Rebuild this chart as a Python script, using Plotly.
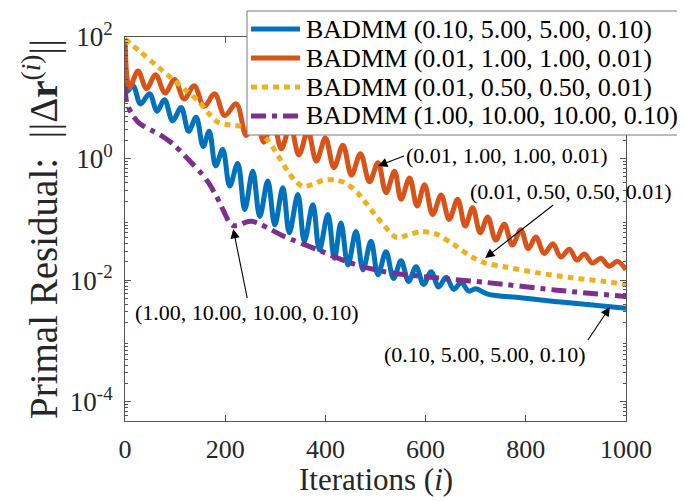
import plotly.graph_objects as go

# ---------------- data ----------------
series_names = [
    "BADMM (0.10, 5.00, 5.00, 0.10)",
    "BADMM (0.01, 1.00, 1.00, 0.01)",
    "BADMM (0.01, 0.50, 0.50, 0.01)",
    "BADMM (1.00, 10.00, 10.00, 0.10)",
]

blue_iter = [0, 3, 16, 31, 49, 64, 79, 95, 112, 127, 142, 156, 168, 181, 195, 209, 225, 239,
             255, 269, 285, 299, 315, 328, 345, 358, 375, 388, 405, 418, 431, 445, 461, 475,
             491, 505, 521, 536, 551, 566, 581, 596, 611, 626, 641, 656, 671, 686, 700, 724,
             790, 857, 923, 1000]
blue_val = [60.0, 12.6, 15.8, 7.94, 11.7, 6.03, 9.33, 4.17, 6.92, 2.82, 4.79, 1.58, 2.82, 0.759,
            1.41, 0.355, 0.832, 0.145, 0.617, 0.112, 0.427, 0.0813, 0.331, 0.0603, 0.257, 0.0437,
            0.174, 0.0316, 0.120, 0.0229, 0.0871, 0.0178, 0.0631, 0.0148, 0.0437, 0.0123, 0.0295,
            0.0107, 0.0209, 0.00955, 0.0166, 0.00851, 0.0138, 0.00776, 0.0112, 0.00708, 0.00912,
            0.00661, 0.00724, 0.00589, 0.00513, 0.00447, 0.00398, 0.00347]

red_iter = [0, 9, 26, 43, 61, 80, 99, 118, 138, 158, 179, 199, 222, 242, 260, 277, 295, 312,
            330, 347, 365, 382, 400, 417, 435, 452, 470, 488, 505, 521, 538, 551, 568, 583, 598,
            614, 631, 647, 664, 679, 694, 709, 724, 740, 757, 773, 790, 805, 820, 837, 854, 870,
            887, 902, 917, 933, 950, 966, 983, 1000]
red_val = [95.5, 14.8, 27.5, 14.1, 24.0, 12.0, 20.0, 9.55, 15.8, 7.24, 11.7, 5.13, 7.94, 2.40,
           6.03, 1.86, 4.37, 1.45, 3.47, 1.15, 2.82, 0.912, 2.19, 0.708, 1.66, 0.537, 1.20, 0.417,
           0.851, 0.275, 0.617, 0.214, 0.479, 0.166, 0.372, 0.120, 0.251, 0.100, 0.214, 0.0776,
           0.155, 0.0603, 0.110, 0.0457, 0.0832, 0.0380, 0.0676, 0.0331, 0.0513, 0.0275, 0.0398,
           0.0240, 0.0324, 0.0214, 0.0269, 0.0191, 0.0229, 0.0170, 0.0204, 0.0148]

yellow_iter = [0, 30, 60, 90, 119, 146, 165, 185, 210, 240, 265, 285, 300, 318, 338, 355, 372,
               395, 418, 440, 465, 491, 518, 542, 564, 591, 624, 657, 697, 720, 757, 824, 890,
               957, 1000]
yellow_val = [93.3, 57.5, 35.5, 21.9, 13.8, 8.91, 5.75, 3.98, 3.55, 3.31, 2.75, 2.00, 1.32,
              0.759, 0.447, 0.347, 0.372, 0.437, 0.447, 0.398, 0.269, 0.145, 0.0776, 0.0501,
              0.0550, 0.0631, 0.0562, 0.0380, 0.0229, 0.0191, 0.0166, 0.0132, 0.0110, 0.00955,
              0.00851]

purple_iter = [0, 4, 15, 26, 40, 52, 70, 86, 100, 119, 135, 152, 167, 179, 190, 199, 207, 215,
               227, 240, 252, 268, 285, 318, 385, 451, 518, 584, 644, 724, 857, 1000]
purple_val = [15.1, 7.94, 5.25, 3.98, 3.31, 2.95, 2.45, 2.00, 1.62, 1.12, 0.813, 0.575, 0.398,
              0.269, 0.182, 0.126, 0.0933, 0.0794, 0.0794, 0.0891, 0.0933, 0.0851, 0.0724,
              0.0525, 0.0316, 0.0191, 0.0138, 0.0117, 0.0105, 0.00912, 0.00692, 0.00537]

x_ticks = [0, 200, 400, 600, 800, 1000]
y_ticks = [1e-4, 1e-2, 1, 100]
y_tick_text = ["10<sup>-4</sup>", "10<sup>-2</sup>", "10<sup>0</sup>", "10<sup>2</sup>"]

x_title = "Iterations (<i>i</i>)"
y_title = "Primal Residual:  ||Δ<b>r</b><sup>(<i>i</i>)</sup>||"

# curve labels with arrows: text, arrow tip (iteration, log10 residual)
label_text = ["(0.01, 1.00, 1.00, 0.01)", "(0.01, 0.50, 0.50, 0.01)",
              "(0.10, 5.00, 5.00, 0.10)", "(1.00, 10.00, 10.00, 0.10)"]
tip_x = [505, 719, 968, 216]
tip_logy = [-0.12, -1.635, -2.44, -1.158]

# ---------------- styling / layout helpers ----------------
colors = ["#0072BD", "#D95319", "#EDB120", "#7E2F8E"]
dashes = ["solid", "solid", "6px,5px", "15px,6px,5px,6px"]
FONT = "Liberation Serif, Times New Roman, serif"
AX = "#262626"
LW = 5

# arrow tail offsets (px, relative to tip) and text anchoring
tail_dx = [26, 86, -22, 14]
tail_dy = [-10, -67, 33, 69]
anchor_x = ["left", "center", "right", "center"]
anchor_y = ["middle", "middle", "top", "top"]

fig = go.Figure()
for i, (xs, ys) in enumerate([(blue_iter, blue_val), (red_iter, red_val),
                              (yellow_iter, yellow_val), (purple_iter, purple_val)]):
    fig.add_trace(go.Scatter(
        x=xs, y=ys, mode="lines", name=series_names[i], showlegend=False,
        line=dict(color=colors[i], width=LW, shape="spline",
                  smoothing=1.0 if i < 2 else 0.8, dash=dashes[i])))

for t, tx, ty, dx, dy, xa, ya in zip(label_text, tip_x, tip_logy, tail_dx, tail_dy,
                                      anchor_x, anchor_y):
    fig.add_annotation(x=tx, y=ty, xref="x", yref="y", text=t, showarrow=True,
                       ax=dx, ay=dy, xanchor=xa, yanchor=ya,
                       arrowhead=2, arrowsize=1.7, arrowwidth=1.1, arrowcolor="black",
                       font=dict(family=FONT, size=22, color="black"))

# legend box (MATLAB style, drawn in paper coordinates)
PX0, PW, PY0, PH = 117, 501, 413, 384          # plot area in pixels


def px(xpix):
    return (xpix - PX0) / PW


def py(ypix):
    return (PY0 - ypix) / PH


fig.add_shape(type="rect", xref="paper", yref="paper", x0=px(239), x1=px(673),
              y0=py(127), y1=py(3), fillcolor="white",
              line=dict(color="#7a7a7a", width=1), layer="above")
row_y = [21, 50, 79, 108]
for i, ry in enumerate(row_y):
    fig.add_shape(type="line", xref="paper", yref="paper", x0=px(243), x1=px(292),
                  y0=py(ry), y1=py(ry), layer="above",
                  line=dict(color=colors[i], width=LW, dash=dashes[i]))
    fig.add_annotation(x=px(296), y=py(ry), xref="paper", yref="paper",
                       text=series_names[i], showarrow=False, xanchor="left",
                       yanchor="middle", font=dict(family=FONT, size=26, color="black"))

# x-axis title as a positioned text (keeps it fully inside the page)
fig.add_annotation(x=0.5, y=py(471), xref="paper", yref="paper", text=x_title,
                   showarrow=False, xanchor="center", yanchor="middle",
                   font=dict(family=FONT, size=31, color=AX))

fig.update_layout(
    width=685, height=502,
    margin=dict(l=117, r=67, t=29, b=89, autoexpand=False),
    paper_bgcolor="white", plot_bgcolor="white",
    font=dict(family=FONT, color=AX),
    showlegend=False,
)
fig.update_xaxes(
    range=[0, 1000], tickvals=x_ticks, ticks="inside", ticklen=6, tickwidth=1,
    tickcolor="#555", showline=True, linecolor="#555", linewidth=1, mirror="ticks",
    showgrid=False, zeroline=False, ticklabelstandoff=5,
    tickfont=dict(family=FONT, size=26, color=AX),
)
fig.update_yaxes(
    type="log", range=[-4.316, 2], tickvals=y_ticks, ticktext=y_tick_text,
    ticks="inside", ticklen=6, tickwidth=1, tickcolor="#555",
    showline=True, linecolor="#555", linewidth=1, mirror="ticks",
    showgrid=False, zeroline=False, ticklabelstandoff=6,
    tickfont=dict(family=FONT, size=27, color=AX),
    minor=dict(ticks="inside", ticklen=3, tickcolor="#555", showgrid=False,
               tickvals=[m * 10.0 ** e for e in range(-5, 2) for m in range(2, 10)]),
    title=dict(text=y_title, font=dict(family=FONT, size=39, color=AX), standoff=0),
)

fig.write_html("out.html")
